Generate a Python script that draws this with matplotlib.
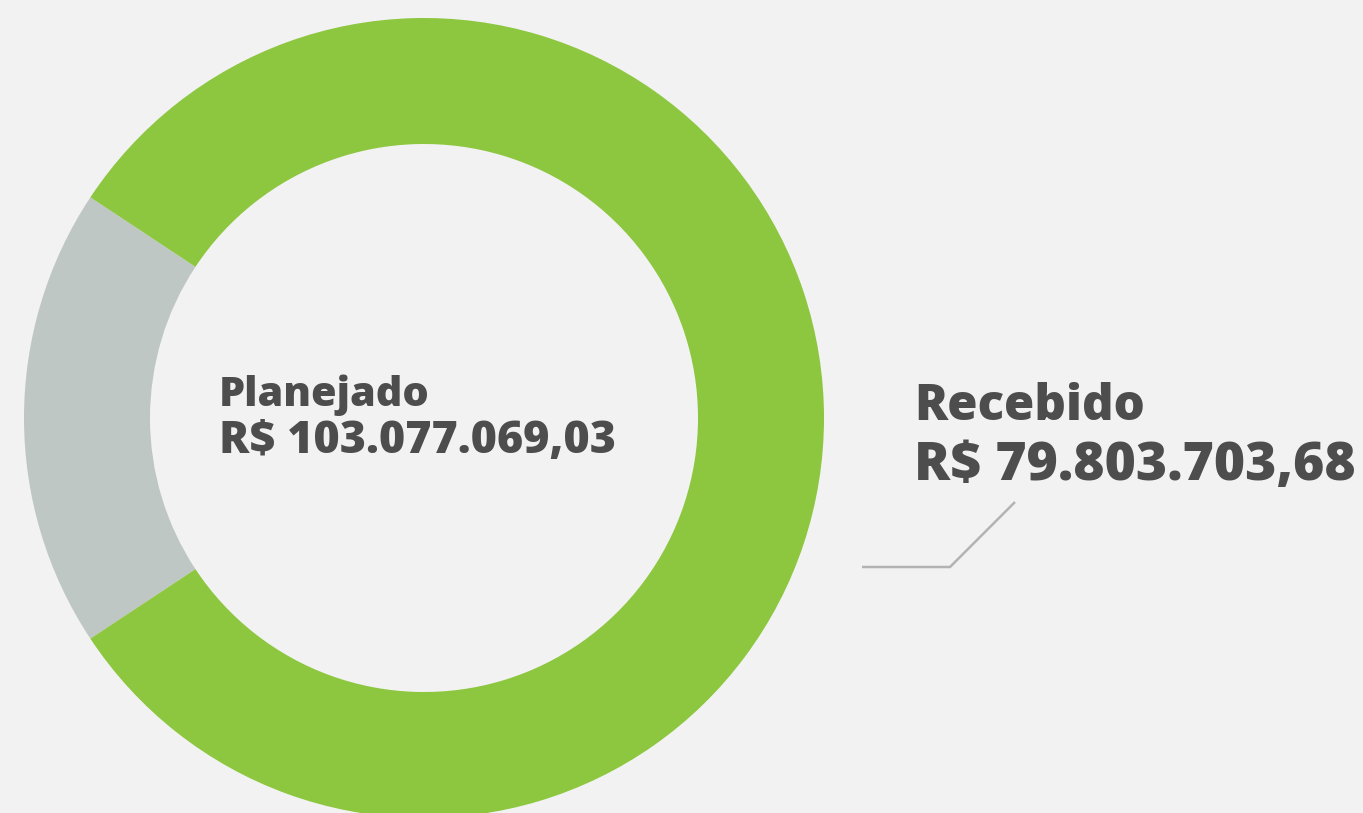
import matplotlib
matplotlib.use("Agg")
import matplotlib.pyplot as plt

# Data
categories = ["A receber", "Recebido"]
shares = [18.6, 81.4]          # percent of ring, as drawn
slice_colors = ["#bfc7c4", "#8dc63f"]
planned_label = "Planejado"
planned_value = "R$ 103.077.069,03"
received_label = "Recebido"
received_value = "R$ 79.803.703,68"

W, H = 1363, 813
fig = plt.figure(figsize=(W / 100, H / 100), dpi=100)
fig.patch.set_facecolor("#f2f2f2")
ax = fig.add_axes([0, 0, 1, 1])
ax.set_facecolor("#f2f2f2")

def Y(py):
    return H - py

cx, cy, R = 424, Y(418), 400
gray_deg = shares[0] / sum(shares) * 360
ax.pie(shares, colors=slice_colors, startangle=180 - gray_deg / 2,
       counterclock=True, center=(cx, cy), radius=R,
       wedgeprops=dict(width=R - 274, linewidth=0))

ax.set_xlim(0, W)
ax.set_ylim(0, H)
ax.set_aspect("equal")
ax.axis("off")

txt = "#4d4d4d"
fam = ["Open Sans", "DejaVu Sans"]
renderer = fig.canvas.get_renderer()

def fitted(x, py, s, size, target_w):
    t = ax.text(x, Y(py), s, fontsize=size, fontweight=800,
                color=txt, family=fam, va="baseline", ha="left")
    w = t.get_window_extent(renderer).width
    t.set_fontsize(size * target_w / w)
    return t

fitted(219, 405.5, planned_label, 28, 211)
fitted(219, 453, planned_value, 35, 397)
fitted(914, 420, received_label, 33, 231)
fitted(914, 480, received_value, 45, 442)

ax.plot([862, 950, 1015], [Y(567), Y(567), Y(502)], color="#b3b3b3",
        linewidth=1.8, solid_capstyle="butt", solid_joinstyle="miter")

fig.savefig("out.png", dpi=100, facecolor=fig.get_facecolor())
